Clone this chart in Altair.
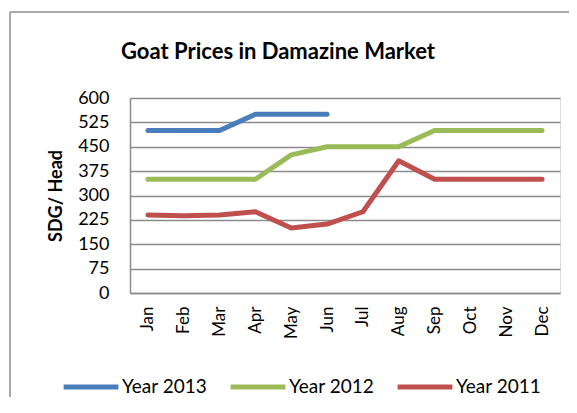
import altair as alt
import pandas as pd

months = ["Jan", "Feb", "Mar", "Apr", "May", "Jun", "Jul", "Aug", "Sep", "Oct", "Nov", "Dec"]
series_names = ["Year 2013", "Year 2012", "Year 2011"]
year2013 = [500, 500, 500, 550, 550, 550]
year2012 = [350, 350, 350, 350, 425, 450, 450, 450, 500, 500, 500, 500]
year2011 = [240, 238, 240, 250, 200, 212, 250, 407, 350, 350, 350, 350]
y_ticks = [0, 75, 150, 225, 300, 375, 450, 525, 600]
colors = ["#4A7EBB", "#9BBB59", "#C0504D"]
title_text = "Goat Prices in Damazine Market"

rows = []
for name, vals in zip(series_names, [year2013, year2012, year2011]):
    for i, v in enumerate(vals):
        rows.append({"Month": months[i], "Series": name, "Price": v, "order": i})
df = pd.DataFrame(rows)

FONT = "Lato"

lines = alt.Chart(df).mark_line(strokeWidth=5, strokeCap="round", strokeJoin="round").encode(
    x=alt.X("Month:N", sort=months, scale=alt.Scale(domain=months, paddingInner=0, paddingOuter=0),
            axis=alt.Axis(title=None, labelAngle=270, ticks=False, labelFontSize=17, labelFont=FONT,
                          labelColor="#000000", labelPadding=13, domainColor="#8c8c8c", domainWidth=1.5,
                          grid=False)),
    y=alt.Y("Price:Q", scale=alt.Scale(domain=[0, 600], nice=False),
            axis=alt.Axis(values=y_ticks, title="SDG/ Head", titleFont=FONT, titleFontSize=18,
                          titleFontWeight="bold", titleColor="#000000", titlePadding=12,
                          labelFontSize=18, labelFont=FONT, labelColor="#000000", labelPadding=21,
                          ticks=False, domainColor="#8c8c8c", domainWidth=1.5,
                          gridColor="#8c8c8c", gridWidth=1.5)),
    color=alt.Color("Series:N", scale=alt.Scale(domain=series_names, range=colors),
                    legend=alt.Legend(title=None, orient="none", legendX=-69, legendY=259,
                                      direction="horizontal", symbolType="stroke",
                                      symbolStrokeWidth=5, symbolSize=3000, labelFontSize=19,
                                      labelFont=FONT, labelColor="#000000", columnPadding=12,
                                      labelOffset=1)),
    detail="Series:N",
    order="order:Q",
)

one = pd.DataFrame({"t": [title_text]})

title = alt.Chart(one).mark_text(font=FONT, fontSize=22, fontWeight="bold", color="#000000",
                                 align="center", baseline="alphabetic").encode(
    text="t:N", x=alt.value(148), y=alt.value(-39))

border_left = alt.Chart(one).mark_rule(stroke="#8c8c8c", strokeWidth=1.5, clip=False).encode(
    x=alt.value(-120), y=alt.value(-86), y2=alt.value(400))
border_top = alt.Chart(one).mark_rule(stroke="#8c8c8c", strokeWidth=1.5, clip=False).encode(
    x=alt.value(-120), x2=alt.value(447), y=alt.value(-86))

chart = alt.layer(border_left, border_top, title, lines).properties(
    width=430, height=195,
    autosize=alt.AutoSizeParams(type="none"),
    padding={"left": 122, "top": 90, "right": 9, "bottom": 104},
).configure_view(stroke=None).configure(background="white")

chart.save("out.html", embed_options={"renderer": "svg", "actions": False})
